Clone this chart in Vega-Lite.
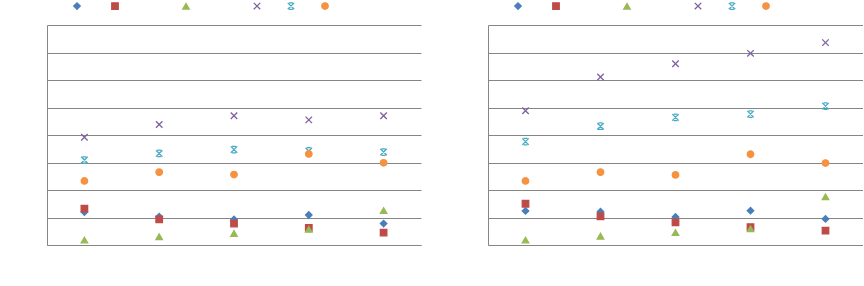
{
  "$schema": "https://vega.github.io/schema/vega-lite/v6.json",
  "padding": {"left": 47, "top": 2, "right": 0, "bottom": 0},
  "background": "white",
  "config": {
    "view": {"stroke": null},
    "axis": {"domainColor": "#868686", "gridColor": "#868686", "ticks": false, "labels": false, "title": null},
    "legend": {
      "orient": "none", "direction": "horizontal", "columns": 6, "title": null,
      "labelFont": "DejaVu Sans Mono", "labelFontSize": 7.75, "labelOffset": 0, "labelOpacity": 0,
      "columnPadding": 0, "symbolSize": 42, "symbolStrokeWidth": 1.3, "padding": 0,
      "legendX": 26, "legendY": -23
    }
  },
  "datasets": {
    "p1": [
      {"cat": "1", "series": "Item A", "value": 1.20},
      {"cat": "1", "series": "Long series B", "value": 1.32},
      {"cat": "1", "series": "Longer item C", "value": 0.18},
      {"cat": "1", "series": "Set D", "value": 3.92},
      {"cat": "1", "series": "Set E", "value": 3.09},
      {"cat": "1", "series": "Set F", "value": 2.33},
      {"cat": "2", "series": "Item A", "value": 1.03},
      {"cat": "2", "series": "Long series B", "value": 0.93},
      {"cat": "2", "series": "Longer item C", "value": 0.30},
      {"cat": "2", "series": "Set D", "value": 4.38},
      {"cat": "2", "series": "Set E", "value": 3.33},
      {"cat": "2", "series": "Set F", "value": 2.65},
      {"cat": "3", "series": "Item A", "value": 0.93},
      {"cat": "3", "series": "Long series B", "value": 0.78},
      {"cat": "3", "series": "Longer item C", "value": 0.42},
      {"cat": "3", "series": "Set D", "value": 4.70},
      {"cat": "3", "series": "Set E", "value": 3.47},
      {"cat": "3", "series": "Set F", "value": 2.56},
      {"cat": "4", "series": "Item A", "value": 1.09},
      {"cat": "4", "series": "Long series B", "value": 0.62},
      {"cat": "4", "series": "Longer item C", "value": 0.57},
      {"cat": "4", "series": "Set D", "value": 4.55},
      {"cat": "4", "series": "Set E", "value": 3.42},
      {"cat": "4", "series": "Set F", "value": 3.31},
      {"cat": "5", "series": "Item A", "value": 0.78},
      {"cat": "5", "series": "Long series B", "value": 0.45},
      {"cat": "5", "series": "Longer item C", "value": 1.25},
      {"cat": "5", "series": "Set D", "value": 4.70},
      {"cat": "5", "series": "Set E", "value": 3.38},
      {"cat": "5", "series": "Set F", "value": 2.99}
    ],
    "p2": [
      {"cat": "1", "series": "Item A", "value": 1.24},
      {"cat": "1", "series": "Long series B", "value": 1.50},
      {"cat": "1", "series": "Longer item C", "value": 0.18},
      {"cat": "1", "series": "Set D", "value": 4.88},
      {"cat": "1", "series": "Set E", "value": 3.76},
      {"cat": "1", "series": "Set F", "value": 2.33},
      {"cat": "2", "series": "Item A", "value": 1.21},
      {"cat": "2", "series": "Long series B", "value": 1.04},
      {"cat": "2", "series": "Longer item C", "value": 0.32},
      {"cat": "2", "series": "Set D", "value": 6.11},
      {"cat": "2", "series": "Set E", "value": 4.32},
      {"cat": "2", "series": "Set F", "value": 2.65},
      {"cat": "3", "series": "Item A", "value": 1.02},
      {"cat": "3", "series": "Long series B", "value": 0.82},
      {"cat": "3", "series": "Longer item C", "value": 0.45},
      {"cat": "3", "series": "Set D", "value": 6.59},
      {"cat": "3", "series": "Set E", "value": 4.64},
      {"cat": "3", "series": "Set F", "value": 2.55},
      {"cat": "4", "series": "Item A", "value": 1.25},
      {"cat": "4", "series": "Long series B", "value": 0.65},
      {"cat": "4", "series": "Longer item C", "value": 0.59},
      {"cat": "4", "series": "Set D", "value": 6.97},
      {"cat": "4", "series": "Set E", "value": 4.76},
      {"cat": "4", "series": "Set F", "value": 3.30},
      {"cat": "5", "series": "Item A", "value": 0.95},
      {"cat": "5", "series": "Long series B", "value": 0.52},
      {"cat": "5", "series": "Longer item C", "value": 1.75},
      {"cat": "5", "series": "Set D", "value": 7.36},
      {"cat": "5", "series": "Set E", "value": 5.05},
      {"cat": "5", "series": "Set F", "value": 2.98}
    ]
  },
  "spacing": 67,
  "resolve": {
    "scale": {"fill": "independent", "stroke": "independent", "shape": "independent"},
    "legend": {"fill": "independent", "stroke": "independent", "shape": "independent"}
  },
  "hconcat": [
    {
      "width": 374, "height": 220,
      "data": {"name": "p1"},
      "mark": {"type": "point", "size": 42, "strokeWidth": 1.3, "opacity": 1},
      "encoding": {
        "x": {"field": "cat", "type": "nominal", "scale": {"paddingInner": 0, "paddingOuter": 0}, "axis": {"domain": true, "grid": false}},
        "y": {"field": "value", "type": "quantitative", "scale": {"domain": [0, 8], "nice": false}, "axis": {"tickCount": 8, "grid": true, "domain": true}},
        "shape": {"field": "series", "type": "nominal", "scale": {"domain": ["Item A", "Long series B", "Longer item C", "Set D", "Set E", "Set F"], "range": ["diamond", "square", "triangle-up", "M-1,-1L1,1M-1,1L1,-1", "M-1,-1L1,1M-1,1L1,-1M-0.6,-1L0.6,-1M-0.6,1L0.6,1", "circle"]}},
        "fill": {"field": "series", "type": "nominal", "scale": {"domain": ["Item A", "Long series B", "Longer item C", "Set D", "Set E", "Set F"], "range": ["#4a7ebb", "#be4b48", "#98b954", "transparent", "transparent", "#f69240"]}},
        "stroke": {"field": "series", "type": "nominal", "scale": {"domain": ["Item A", "Long series B", "Longer item C", "Set D", "Set E", "Set F"], "range": ["#4a7ebb", "#be4b48", "#98b954", "#7d60a0", "#46aac5", "#f69240"]}}
      }
    },
    {
      "width": 375, "height": 220,
      "data": {"name": "p2"},
      "mark": {"type": "point", "size": 42, "strokeWidth": 1.3, "opacity": 1},
      "encoding": {
        "x": {"field": "cat", "type": "nominal", "scale": {"paddingInner": 0, "paddingOuter": 0}, "axis": {"domain": true, "grid": false}},
        "y": {"field": "value", "type": "quantitative", "scale": {"domain": [0, 8], "nice": false}, "axis": {"tickCount": 8, "grid": true, "domain": true}},
        "shape": {"field": "series", "type": "nominal", "scale": {"domain": ["Item A", "Long series B", "Longer item C", "Set D", "Set E", "Set F"], "range": ["diamond", "square", "triangle-up", "M-1,-1L1,1M-1,1L1,-1", "M-1,-1L1,1M-1,1L1,-1M-0.6,-1L0.6,-1M-0.6,1L0.6,1", "circle"]}},
        "fill": {"field": "series", "type": "nominal", "scale": {"domain": ["Item A", "Long series B", "Longer item C", "Set D", "Set E", "Set F"], "range": ["#4a7ebb", "#be4b48", "#98b954", "transparent", "transparent", "#f69240"]}},
        "stroke": {"field": "series", "type": "nominal", "scale": {"domain": ["Item A", "Long series B", "Longer item C", "Set D", "Set E", "Set F"], "range": ["#4a7ebb", "#be4b48", "#98b954", "#7d60a0", "#46aac5", "#f69240"]}}
      }
    }
  ]
}
